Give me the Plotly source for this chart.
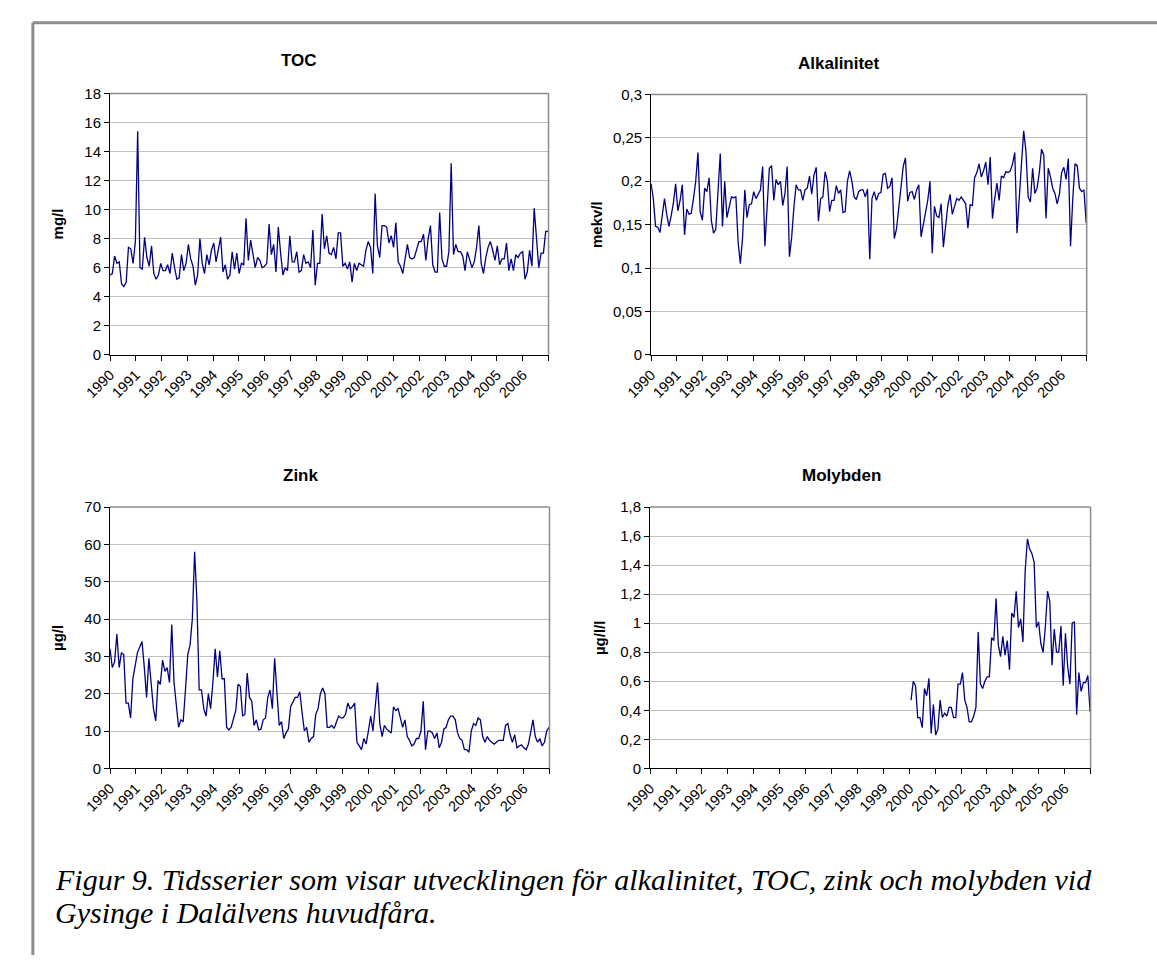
import numpy as np
import plotly.graph_objects as go

W, H = 1157, 963

years = ["1990", "1991", "1992", "1993", "1994", "1995", "1996", "1997", "1998",
         "1999", "2000", "2001", "2002", "2003", "2004", "2005", "2006"]

toc = [5.5, 5.6, 6.8, 6.3, 6.4, 4.9, 4.7, 5.0, 7.4, 7.3, 6.3, 7.8, 15.4, 6.0, 5.9, 8.1, 6.7, 6.1, 7.5,
       5.6, 5.2, 5.5, 6.3, 5.8, 5.8, 6.2, 5.6, 7.0, 6.0, 5.2, 5.3, 6.9, 5.8, 6.3, 7.6, 6.6, 6.1, 4.8,
       5.5, 8.0, 6.3, 5.6, 6.9, 6.2, 7.2, 7.7, 6.4, 7.2, 8.1, 5.7, 6.2, 5.2, 5.5, 7.1, 5.9, 7.0, 5.6,
       6.3, 6.2, 9.4, 6.5, 7.9, 6.9, 6.0, 6.7, 6.5, 6.0, 6.1, 6.3, 9.0, 6.9, 7.6, 5.7, 8.8, 7.0, 5.5,
       6.0, 5.8, 8.2, 6.4, 6.4, 7.1, 5.7, 5.8, 6.9, 6.3, 6.4, 6.0, 8.6, 4.8, 6.3, 6.3, 9.7, 7.3, 8.2,
       7.0, 6.9, 7.4, 6.6, 8.4, 8.4, 6.1, 6.3, 5.9, 6.4, 5.0, 6.3, 5.8, 6.3, 6.2, 6.1, 7.2, 7.8, 7.4,
       5.6, 11.1, 7.5, 6.7, 8.9, 8.9, 8.8, 7.7, 8.2, 7.4, 9.1, 6.4, 6.1, 5.6, 6.5, 7.6, 6.7, 6.6, 6.7,
       7.3, 7.8, 7.8, 8.3, 6.5, 8.0, 8.9, 6.2, 5.7, 5.7, 9.8, 6.6, 6.1, 6.1, 7.1, 13.2, 6.9, 7.6, 7.1,
       7.1, 6.8, 5.8, 7.1, 6.6, 6.0, 6.4, 7.4, 8.9, 6.3, 5.6, 6.7, 7.4, 7.8, 7.2, 6.5, 7.5, 6.2, 6.6,
       6.6, 7.7, 5.8, 6.6, 5.8, 6.9, 6.7, 7.0, 7.1, 5.2, 5.7, 7.2, 6.1, 10.1, 7.7, 6.0, 7.0, 7.0, 8.5,
       8.5]

alk = [0.197, 0.18, 0.148, 0.147, 0.141, 0.16, 0.18, 0.162, 0.148, 0.16, 0.175, 0.197, 0.166, 0.178,
       0.196, 0.138, 0.168, 0.162, 0.163, 0.18, 0.2, 0.233, 0.165, 0.155, 0.192, 0.188, 0.204, 0.155,
       0.14, 0.145, 0.19, 0.232, 0.148, 0.2, 0.158, 0.17, 0.182, 0.181, 0.182, 0.13, 0.105, 0.135,
       0.19, 0.158, 0.173, 0.174, 0.188, 0.18, 0.186, 0.19, 0.217, 0.125, 0.17, 0.215, 0.218, 0.178,
       0.202, 0.196, 0.2, 0.172, 0.186, 0.217, 0.113, 0.135, 0.17, 0.196, 0.19, 0.19, 0.178, 0.19,
       0.192, 0.206, 0.185, 0.207, 0.216, 0.154, 0.18, 0.182, 0.211, 0.2, 0.165, 0.178, 0.178, 0.195,
       0.186, 0.19, 0.164, 0.165, 0.2, 0.212, 0.2, 0.182, 0.179, 0.188, 0.19, 0.19, 0.182, 0.191,
       0.11, 0.18, 0.188, 0.178, 0.186, 0.187, 0.208, 0.209, 0.192, 0.194, 0.204, 0.134, 0.145, 0.17,
       0.19, 0.217, 0.227, 0.177, 0.187, 0.188, 0.179, 0.19, 0.196, 0.136, 0.15, 0.165, 0.178, 0.2,
       0.117, 0.171, 0.16, 0.158, 0.174, 0.124, 0.152, 0.172, 0.185, 0.162, 0.171, 0.18, 0.178, 0.182,
       0.178, 0.174, 0.146, 0.173, 0.172, 0.204, 0.21, 0.22, 0.205, 0.212, 0.222, 0.196, 0.228, 0.157,
       0.18, 0.198, 0.178, 0.206, 0.204, 0.211, 0.21, 0.212, 0.22, 0.233, 0.14, 0.185, 0.22, 0.258,
       0.235, 0.182, 0.176, 0.215, 0.186, 0.192, 0.21, 0.237, 0.23, 0.157, 0.215, 0.205, 0.192, 0.186,
       0.174, 0.185, 0.21, 0.216, 0.202, 0.226, 0.125, 0.18, 0.22, 0.218, 0.192, 0.188, 0.19, 0.152]

zink = [32, 27, 28.5, 36, 27, 31, 30.5, 17.5, 17.5, 13.5, 24, 28, 31, 32.5, 34, 27, 19, 29.5, 23, 16,
        12.7, 23.5, 22.5, 29, 26, 27, 23, 38.5, 23, 17, 11, 13, 12.5, 21, 30.5, 33, 40, 58, 45, 21,
        21, 16, 14, 20, 16, 23, 32, 24.5, 31.5, 24, 24, 11, 10.3, 11, 13.5, 15.5, 22.5, 22, 14, 14.5,
        25.5, 19, 18, 11.5, 13, 10.3, 10.5, 13, 13.5, 19, 21, 16, 29.5, 20, 11.5, 12.5, 8, 9.5, 10.5,
        16.5, 18, 19, 19, 20.5, 15, 10, 11, 7, 8, 8.5, 14.5, 16, 20, 21.5, 20, 11, 11, 11.5, 10.7,
        12.5, 14, 13.5, 13.5, 14.5, 17.5, 16, 16.5, 17.5, 7, 6, 5, 8, 6.5, 10, 14, 10, 17, 23, 12,
        8.5, 11.5, 10.5, 10, 9.5, 16.5, 15.5, 16, 13, 11, 13, 8.5, 7.5, 6, 6.5, 8, 8, 10, 18, 5, 10,
        10, 9.5, 8, 9.5, 5.5, 7, 10.5, 11, 13, 14, 14, 13, 9.5, 8, 7.5, 5, 5, 4.3, 10, 12, 11.5, 13.5,
        13, 8.5, 7, 8.5, 7.5, 7, 6.5, 7, 7.5, 7.5, 7.5, 11.5, 12, 9, 7, 9, 5.5, 6, 6.3, 5.5, 5, 6.5,
        9.5, 13, 8.5, 7, 8, 6, 7, 10, 11]

moly = [0.47, 0.6, 0.57, 0.35, 0.35, 0.28, 0.55, 0.5, 0.62, 0.24, 0.44, 0.23, 0.27, 0.47, 0.35, 0.38,
        0.36, 0.42, 0.42, 0.35, 0.35, 0.58, 0.58, 0.66, 0.47, 0.42, 0.32, 0.32, 0.36, 0.42, 0.94, 0.58,
        0.55, 0.6, 0.63, 0.63, 0.9, 0.88, 1.17, 0.85, 0.77, 0.91, 0.78, 0.88, 0.68, 1.07, 1.04, 1.22,
        0.97, 1.03, 0.87, 1.36, 1.58, 1.51, 1.48, 1.42, 0.97, 1.01, 0.86, 0.8, 0.97, 1.22, 1.15, 0.71,
        0.96, 0.8, 0.8, 0.98, 0.57, 0.93, 0.7, 0.58, 1.0, 1.01, 0.37, 0.66, 0.53, 0.59, 0.59, 0.64, 0.39]

# sampling period (decimal years)
period_start = 1990.0
period_end = 2006.98
moly_start = 2000.07

toc_t = np.linspace(period_start, period_end, len(toc))
alk_t = np.linspace(period_start, period_end, len(alk))
zink_t = np.linspace(period_start, period_end, len(zink))
moly_t = np.linspace(moly_start, period_end, len(moly))

toc_ticks = [0, 2, 4, 6, 8, 10, 12, 14, 16, 18]
toc_labels = ["0", "2", "4", "6", "8", "10", "12", "14", "16", "18"]
alk_ticks = [0, 0.05, 0.1, 0.15, 0.2, 0.25, 0.3]
alk_labels = ["0", "0,05", "0,1", "0,15", "0,2", "0,25", "0,3"]
zink_ticks = [0, 10, 20, 30, 40, 50, 60, 70]
zink_labels = ["0", "10", "20", "30", "40", "50", "60", "70"]
moly_ticks = [0, 0.2, 0.4, 0.6, 0.8, 1.0, 1.2, 1.4, 1.6, 1.8]
moly_labels = ["0", "0,2", "0,4", "0,6", "0,8", "1", "1,2", "1,4", "1,6", "1,8"]

panels = [
    dict(title="TOC", unit="mg/l", t=toc_t, v=toc, ticks=toc_ticks, labels=toc_labels,
         box=(85, 534, 86, 352), title_xy=(279, 52), unit_x=31),
    dict(title="Alkalinitet", unit="mekv/l", t=alk_t, v=alk, ticks=alk_ticks, labels=alk_labels,
         box=(639, 1085, 87, 352), title_xy=(831, 55), unit_x=583),
    dict(title="Zink", unit="µg/l", t=zink_t, v=zink, ticks=zink_ticks, labels=zink_labels,
         box=(85, 535, 507, 773), title_xy=(280, 475), unit_x=31),
    dict(title="Molybden", unit="µg/l/l", t=moly_t, v=moly, ticks=moly_ticks, labels=moly_labels,
         box=(638, 1089, 507, 773), title_xy=(834, 475), unit_x=586),
]

FONT = "Liberation Sans, Arial, sans-serif"
fig = go.Figure()
layout = dict(
    width=W, height=H, margin=dict(l=0, r=0, t=0, b=0),
    paper_bgcolor="white", plot_bgcolor="white", showlegend=False,
    font=dict(family=FONT, size=14, color="black"),
    annotations=[], shapes=[],
)

xtickvals = list(range(1990, 2008))
xticktext = years + [""]

for i, p in enumerate(panels):
    k = "" if i == 0 else str(i + 1)
    x0, x1, y0, y1 = p["box"]
    fig.add_trace(go.Scatter(x=p["t"], y=p["v"], mode="lines",
                             line=dict(color="#000080", width=1.3),
                             xaxis="x" + k, yaxis="y" + k, hoverinfo="skip"))
    layout["xaxis" + k] = dict(
        domain=[x0 / W, x1 / W], anchor="y" + k, range=[1990, 2007],
        tickvals=xtickvals, ticktext=xticktext, tickangle=-45,
        ticks="outside", ticklen=5, tickcolor="black", tickwidth=1,
        showline=True, linecolor="black", linewidth=1, showgrid=False, zeroline=False,
        tickfont=dict(family=FONT, size=14.5, color="black"),
    )
    layout["yaxis" + k] = dict(
        domain=[1 - y1 / H, 1 - y0 / H], anchor="x" + k,
        range=[0, p["ticks"][-1]], tickvals=p["ticks"], ticktext=p["labels"],
        ticks="outside", ticklen=5, tickcolor="black", tickwidth=1,
        showline=True, linecolor="black", linewidth=1,
        showgrid=True, gridcolor="#c0c0c0", gridwidth=1, zeroline=False,
        tickfont=dict(family=FONT, size=15, color="black"),
    )
    xd, yd = "x" + k + " domain", "y" + k + " domain"
    layout["shapes"].append(dict(type="line", xref=xd, yref=yd, x0=0, x1=1, y0=1, y1=1,
                                 line=dict(color="#8a8a8a", width=1.5)))
    layout["shapes"].append(dict(type="line", xref=xd, yref=yd, x0=1, x1=1, y0=0, y1=1,
                                 line=dict(color="#8a8a8a", width=1.5)))
    tx, ty = p["title_xy"]
    layout["annotations"].append(dict(
        text="<b>%s</b>" % p["title"], xref="paper", yref="paper",
        x=tx / W, y=1 - ty / H, xanchor="center", yanchor="middle", showarrow=False,
        font=dict(family=FONT, size=17, color="black")))
    layout["annotations"].append(dict(
        text="<b>%s</b>" % p["unit"], xref="paper", yref="paper", textangle=-90,
        x=p["unit_x"] / W, y=1 - ((y0 + y1) / 2) / H, xanchor="center", yanchor="middle",
        showarrow=False, font=dict(family=FONT, size=15, color="black")))

# outer frame (top and left edges)
layout["shapes"].append(dict(type="line", xref="paper", yref="paper",
                             x0=6 / W, x1=1, y0=1 - 14 / H, y1=1 - 14 / H,
                             line=dict(color="#8c8c8c", width=3)))
layout["shapes"].append(dict(type="line", xref="paper", yref="paper",
                             x0=6 / W, x1=6 / W, y0=0, y1=1 - 14 / H,
                             line=dict(color="#8c8c8c", width=3)))

caption_lines = ["Figur 9. Tidsserier som visar utvecklingen för alkalinitet, TOC, zink och molybden vid",
                 "Gysinge i Dalälvens huvudfåra."]
for j, line in enumerate(caption_lines):
    layout["annotations"].append(dict(
        text="<i>%s</i>" % line, xref="paper", yref="paper", x=27 / W, y=1 - (886 + 34 * j) / H,
        xanchor="left", yanchor="middle", align="left", showarrow=False,
        font=dict(family="Liberation Serif, Times New Roman, serif", size=30, color="black")))

fig.update_layout(**layout)
fig.write_html("out.html")
